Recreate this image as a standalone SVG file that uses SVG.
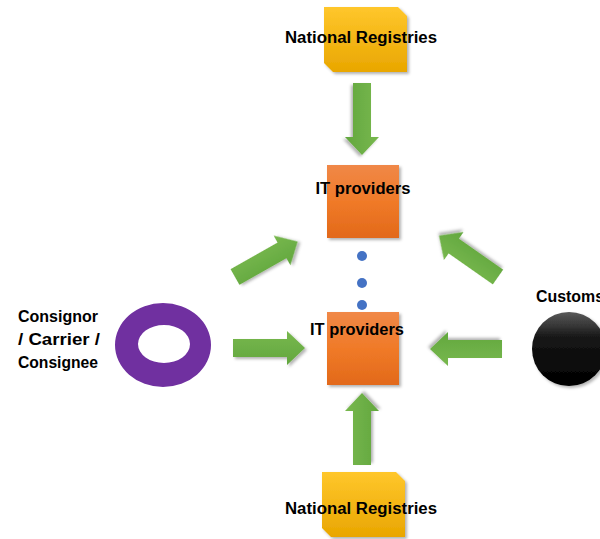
<svg xmlns="http://www.w3.org/2000/svg" xmlns:xlink="http://www.w3.org/1999/xlink" width="600" height="539" viewBox="0 0 600 539">
<defs>
<style>
.lbl{font-family:"Liberation Sans",Arial,sans-serif;font-weight:bold;font-size:16px;fill:#000}
.arrow{fill:url(#gGreen);filter:url(#sh)}
.dot{fill:#4472C4}
</style>
<linearGradient id="gYellow" x1="0" y1="0" x2="0" y2="1">
<stop offset="0" stop-color="#FFC72C"/><stop offset="1" stop-color="#E9A600"/>
</linearGradient>
<linearGradient id="gOrange" x1="0" y1="0" x2="0" y2="1">
<stop offset="0" stop-color="#F08848"/><stop offset="0.5" stop-color="#F07A28"/><stop offset="1" stop-color="#E2691A"/>
</linearGradient>
<linearGradient id="gGreen" x1="0" y1="0" x2="0" y2="1">
<stop offset="0" stop-color="#78B84E"/><stop offset="1" stop-color="#62A73E"/>
</linearGradient>
<linearGradient id="gBlack" x1="0" y1="0" x2="0" y2="1">
<stop offset="0" stop-color="#5a5a5a"/><stop offset="0.35" stop-color="#161616"/><stop offset="1" stop-color="#000"/>
</linearGradient>
<filter id="sh" x="-20%" y="-20%" width="150%" height="150%">
<feDropShadow dx="2" dy="2" stdDeviation="1.5" flood-color="#000" flood-opacity="0.3"/>
</filter>
<path id="arr" d="M0,-9 H54 V-17 L72,0 L54,17 V9 H0 Z"/>
</defs>
<rect width="600" height="539" fill="#fff"/>

<g id="connectors">
<use xlink:href="#arr" class="arrow" transform="translate(362,83) rotate(90)"/>
<use xlink:href="#arr" class="arrow" transform="translate(362,465) rotate(-90)"/>
<use xlink:href="#arr" class="arrow" transform="translate(233,348)"/>
<use xlink:href="#arr" class="arrow" transform="translate(502,349) rotate(180)"/>
<use xlink:href="#arr" class="arrow" transform="translate(235,277) rotate(-29.5)"/>
<use xlink:href="#arr" class="arrow" transform="translate(498,277) rotate(-145)"/>
<circle class="dot" cx="362" cy="256" r="5"/>
<circle class="dot" cx="362" cy="283" r="5"/>
<circle class="dot" cx="362" cy="305" r="5"/>
</g>

<g id="national-registries-top">
<path d="M324,7 H398 L407,16 V72 H333 L324,63 Z" fill="url(#gYellow)" filter="url(#sh)"/>
<text class="lbl" x="361" y="43" text-anchor="middle" textLength="152" lengthAdjust="spacingAndGlyphs">National Registries</text>
</g>

<g id="it-providers-top">
<rect x="327" y="165" width="72" height="73" fill="url(#gOrange)" filter="url(#sh)"/>
<text class="lbl" x="363" y="194" text-anchor="middle" textLength="95" lengthAdjust="spacingAndGlyphs">IT providers</text>
</g>

<g id="it-providers-bottom">
<rect x="327" y="312" width="72" height="73" fill="url(#gOrange)" filter="url(#sh)"/>
<text class="lbl" x="357" y="335" text-anchor="middle" textLength="94" lengthAdjust="spacingAndGlyphs">IT providers</text>
</g>

<g id="national-registries-bottom">
<path d="M322,472 H396 L405,481 V537 H331 L322,528 Z" fill="url(#gYellow)" filter="url(#sh)"/>
<text class="lbl" x="361" y="514" text-anchor="middle" textLength="152" lengthAdjust="spacingAndGlyphs">National Registries</text>
</g>

<g id="consignor">
<path fill-rule="evenodd" fill="#7030A0" d="M115,345 A48,42 0 1,0 211,345 A48,42 0 1,0 115,345 Z M138,344 A26,19 0 1,0 190,344 A26,19 0 1,0 138,344 Z"/>
<text class="lbl" x="18" y="322" textLength="80" lengthAdjust="spacingAndGlyphs">Consignor</text>
<text class="lbl" x="18" y="345" textLength="82" lengthAdjust="spacingAndGlyphs">/  Carrier  /</text>
<text class="lbl" x="18" y="368" textLength="80" lengthAdjust="spacingAndGlyphs">Consignee</text>
</g>

<g id="customs">
<circle cx="569" cy="349" r="37" fill="url(#gBlack)" filter="url(#sh)"/>
<text class="lbl" x="536" y="302" textLength="68" lengthAdjust="spacingAndGlyphs">Customs</text>
</g>
</svg>
